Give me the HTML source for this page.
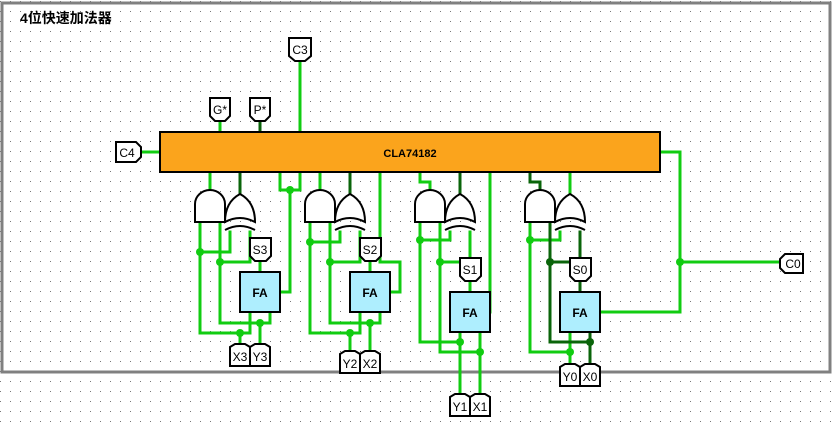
<!DOCTYPE html>
<html><head><meta charset="utf-8"><style>
html,body{margin:0;padding:0;background:#fff;}
svg{display:block;}
text{font-family:"Liberation Sans","Noto Sans CJK SC",sans-serif;}
</style></head><body>
<svg width="837" height="424" viewBox="0 0 837 424" xmlns="http://www.w3.org/2000/svg">
<defs>
<pattern id="g" x="0" y="1" width="10" height="10" patternUnits="userSpaceOnUse">
<rect x="0" y="0" width="1" height="1" fill="#777"/>
</pattern>
<g id="and"><path d="M0,30 L0,12 A15,14 0 0 1 30,12 L30,30 Z" fill="#fff" stroke="#000" stroke-width="2"/></g>
<g id="xor"><path d="M0,28 Q15,20 30,28 Q30,8 15,0 Q0,8 0,28 Z" fill="#fff" stroke="#000" stroke-width="2"/><path d="M0,36 Q15,28 30,36" fill="none" stroke="#000" stroke-width="2"/></g>
</defs>
<rect width="837" height="424" fill="url(#g)"/>
<rect x="2" y="3" width="828" height="369" fill="none" stroke="#808080" stroke-width="3"/>
<text x="20" y="23" font-size="14" font-weight="bold">4位快速加法器</text>

<g fill="none" stroke-width="3" stroke-linecap="square">
<path d="M300,60V132M220,120V132M140,152H160M660,152H680V262M680,262H780M600,312H680V262" stroke="#11cc11"/>
<path d="M260,120V132" stroke="#0a640a"/>
<g stroke="#11cc11">
<path d="M210,172V192M200,222V333H250V312M240,333V345M220,222V323H270V312M260,323V345"/>
<path d="M200,252H230V232M220,262H250V232M260,262V272"/>
<path d="M280,172V190H300V172M290,190V292H280"/>
</g>
<path d="M240,172V194" stroke="#0a640a"/>
<g stroke="#11cc11">
<path d="M320,172V192M310,222V333H360V312M350,333V352M330,222V323H380V312M370,323V352"/>
<path d="M310,242H340V232M330,262H360V232M370,262V272"/>
<path d="M380,172V262H400V292H390"/>
</g>
<path d="M350,172V194" stroke="#0a640a"/>
<g stroke="#11cc11">
<path d="M420,172V182H430V192M420,222V342H460V332M460,342V395M440,222V352H480V332M480,352V395"/>
<path d="M420,240H450V232M440,262H470V232M470,280V292"/>
<path d="M490,172V312"/>
</g>
<path d="M460,172V194" stroke="#0a640a"/>
<g stroke="#11cc11">
<path d="M570,172V194"/>
<path d="M530,222V352H570V332M570,352V365"/>
<path d="M530,240H560V232"/>
</g>
<g stroke="#0a640a">
<path d="M530,172V182H540V192"/>
<path d="M550,222V342H590V332M590,342V365"/>
<path d="M550,262H580V232M580,280V292"/>
</g>
</g>
<g fill="#11cc11">
<circle cx="240" cy="333" r="4"/><circle cx="260" cy="323" r="4"/><circle cx="200" cy="252" r="4"/><circle cx="220" cy="262" r="4"/><circle cx="290" cy="190" r="4"/>
<circle cx="350" cy="333" r="4"/><circle cx="370" cy="323" r="4"/><circle cx="310" cy="242" r="4"/><circle cx="330" cy="262" r="4"/>
<circle cx="460" cy="342" r="4"/><circle cx="480" cy="352" r="4"/><circle cx="420" cy="240" r="4"/><circle cx="440" cy="262" r="4"/>
<circle cx="570" cy="352" r="4"/><circle cx="530" cy="240" r="4"/><circle cx="680" cy="262" r="4"/>
</g>
<g fill="#0a640a"><circle cx="590" cy="342" r="4"/><circle cx="550" cy="262" r="4"/></g>

<rect x="160" y="132" width="500" height="40" fill="#fba41c" stroke="#000" stroke-width="2"/>
<text x="410" y="157" font-size="11" font-weight="bold" text-anchor="middle">CLA74182</text>

<use href="#and" x="195" y="192"/><use href="#xor" x="225" y="194"/>
<use href="#and" x="305" y="192"/><use href="#xor" x="335" y="194"/>
<use href="#and" x="415" y="192"/><use href="#xor" x="445" y="194"/>
<use href="#and" x="525" y="192"/><use href="#xor" x="555" y="194"/>

<g fill="#aeeefe" stroke="#000" stroke-width="2">
<rect x="240" y="272" width="40" height="40"/><rect x="350" y="272" width="40" height="40"/>
<rect x="450" y="292" width="40" height="40"/><rect x="560" y="292" width="40" height="40"/>
</g>
<g font-size="12" font-weight="bold" text-anchor="middle">
<text x="260" y="297">FA</text><text x="370" y="297">FA</text><text x="470" y="317">FA</text><text x="580" y="317">FA</text>
</g>

<g fill="#fff" stroke="#000" stroke-width="2">
<path d="M289,38H311V56L305,61H295L289,56Z"/>
<path d="M210,98H230V116L225,121H215L210,116Z"/>
<path d="M250,98H270V116L265,121H255L250,116Z"/>
<path d="M116,142H136L141,147V157L136,162H116Z"/>
<path d="M785,254H803V273H785L780,268V259Z"/>
<path d="M250,238H271V256L266,261H255L250,256Z"/>
<path d="M360,238H381V256L376,261H365L360,256Z"/>
<path d="M460,258H481V276L476,281H465L460,276Z"/>
<path d="M570,258H591V276L586,281H575L570,276Z"/>
<path d="M230,347L235,344H245L250,347V366H230Z"/><path d="M250,347L255,344H265L270,347V366H250Z"/>
<path d="M340,354L345,351H355L360,354V373H340Z"/><path d="M360,354L365,351H375L380,354V373H360Z"/>
<path d="M450,397L455,394H465L470,397V416H450Z"/><path d="M470,397L475,394H485L490,397V416H470Z"/>
<path d="M560,367L565,364H575L580,367V386H560Z"/><path d="M580,367L585,364H595L600,367V386H580Z"/>
</g>
<g font-size="12" text-anchor="middle">
<text x="300" y="54">C3</text><text x="220" y="114">G*</text><text x="260" y="114">P*</text>
<text x="127" y="157">C4</text><text x="793" y="268">C0</text>
<text x="260" y="254">S3</text><text x="370" y="254">S2</text><text x="470" y="274">S1</text><text x="580" y="274">S0</text>
<text x="240" y="361">X3</text><text x="260" y="361">Y3</text>
<text x="350" y="368">Y2</text><text x="370" y="368">X2</text>
<text x="460" y="411">Y1</text><text x="480" y="411">X1</text>
<text x="570" y="381">Y0</text><text x="590" y="381">X0</text>
</g>
</svg>
</body></html>
